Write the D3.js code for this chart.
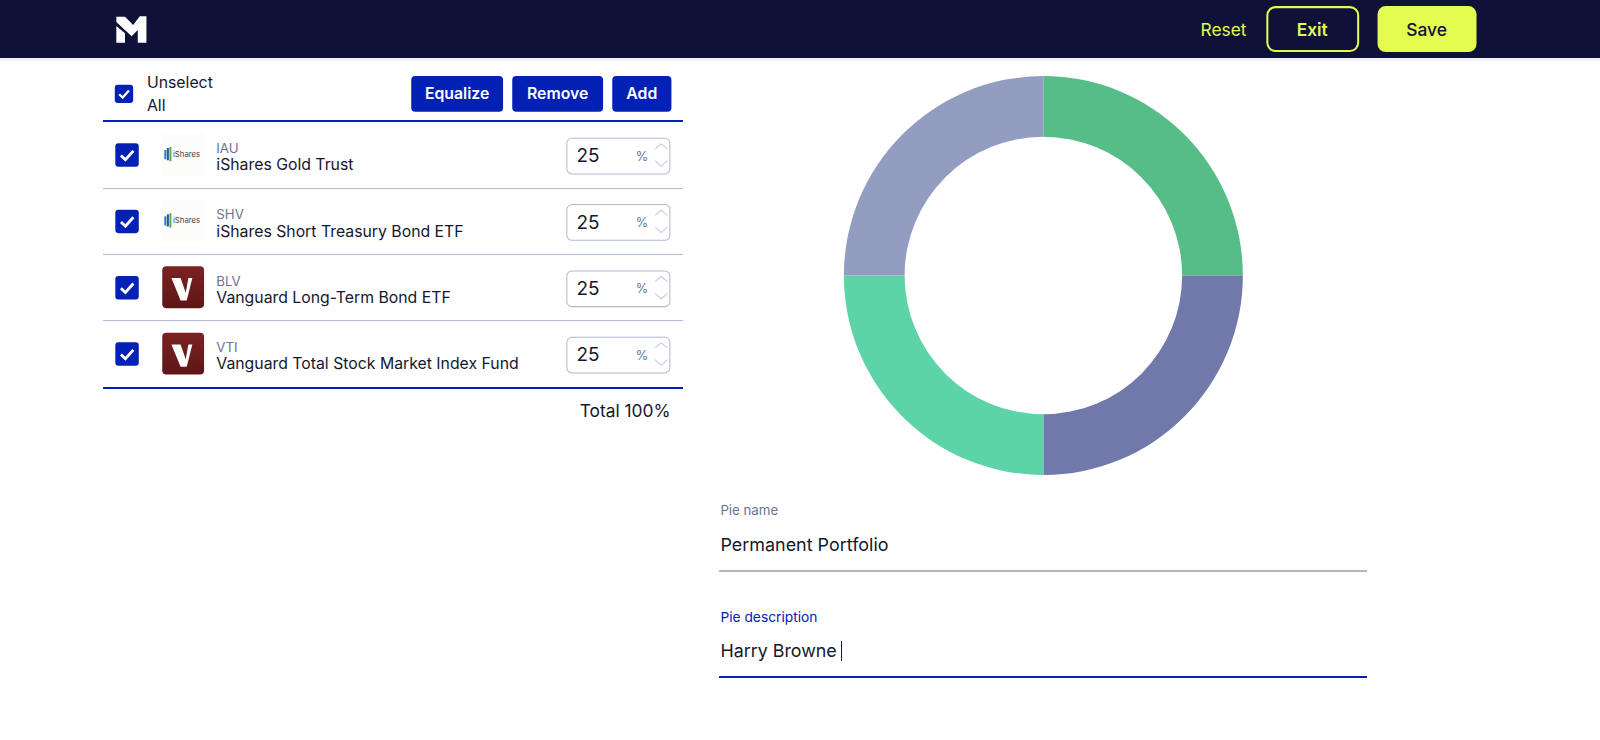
<!DOCTYPE html>
<html><head><meta charset="utf-8">
<script src="https://cdn.jsdelivr.net/npm/d3@7/dist/d3.min.js"></script>
<style>
html,body{margin:0;padding:0;background:#fff;overflow:hidden}
svg{display:block;font-family:Inter,"Noto Sans",sans-serif}
.rule{shape-rendering:crispEdges}
</style></head><body>
<svg id="c" width="1600" height="740" viewBox="0 0 1568 725.2"></svg>
<script>
const tickers=["IAU","SHV","BLV","VTI"];
const names=["iShares Gold Trust","iShares Short Treasury Bond ETF","Vanguard Long-Term Bond ETF","Vanguard Total Stock Market Index Fund"];
const issuers=["iShares","iShares","Vanguard","Vanguard"];
const weights=[25,25,25,25];
const sliceColors=["#57bd88","#7079a9","#5dd3a8","#939dc2"];
const buttons=[["Equalize",403,90],["Remove",502,89],["Add",600,58]];

const navy="#0f1238",lime="#e4fc4f",blue="#0421b5",rule="#b3b9d2",ink="#14172e",grey="#6d7394";
const svg=d3.select("#c");
const T=(g,x,y,s,size,fill,weight,anchor)=>g.append("text").attr("x",x).attr("y",y).text(s)
  .attr("font-size",size).attr("fill",fill).attr("font-weight",weight||400).attr("text-anchor",anchor||"start");
const R=(x,y,w,h,fill)=>svg.append("rect").attr("class","rule").attr("x",x).attr("y",y).attr("width",w).attr("height",h).attr("fill",fill);

const grad=svg.append("defs").append("linearGradient").attr("id","vg").attr("x1",0).attr("y1",0).attr("x2",0).attr("y2",1);
grad.append("stop").attr("offset",0).attr("stop-color","#7a2321");
grad.append("stop").attr("offset",1).attr("stop-color","#5f1517");

R(0,57,1568,3,"#f3f3f5");
R(0,0,1568,57,navy);
svg.append("path").attr("fill","#fff")
  .attr("d","M114 16.5 L122.5 16.5 L130.5 24.5 L137 16 L143.5 16 L143.5 42 L135 42 L135 29.5 L129 35.5 L114 21.5 Z M114 25.5 L122.5 32.5 L122.5 42 L114 42 Z");
T(svg,1199,35,"Reset",17,lime,400,"middle");
svg.append("rect").attr("x",1242).attr("y",7).attr("width",89).attr("height",43).attr("rx",8).attr("fill","none").attr("stroke",lime).attr("stroke-width",2);
T(svg,1286,35,"Exit",17,lime,600,"middle");
svg.append("rect").attr("x",1350).attr("y",6).attr("width",97).attr("height",45).attr("rx",8).attr("fill",lime);
T(svg,1398,35,"Save",17,navy,500,"middle");

function check(x,y,s){
  const g=svg.append("g").attr("transform",`translate(${x},${y})`);
  g.append("rect").attr("width",s).attr("height",s).attr("rx",3).attr("fill",blue);
  g.append("path").attr("d",`M${s*.24} ${s*.52} L${s*.43} ${s*.7} L${s*.77} ${s*.32}`).attr("fill","none").attr("stroke","#fff").attr("stroke-width",s*.12);
}
check(112.5,83,18);
T(svg,144,86,"Unselect",15.5,ink);
T(svg,144,109,"All",15.5,ink);
buttons.forEach(([t,x,w])=>{
  svg.append("rect").attr("x",x).attr("y",74.5).attr("width",w).attr("height",35).attr("rx",4).attr("fill",blue);
  T(svg,x+w/2,97.5,t,15.5,"#fff",600,"middle");
});
R(101,118,568,2,blue);
R(101,379,568,2,blue);

const rowY=d3.scaleLinear().domain([0,3]).range([152,347]);
tickers.forEach((t,i)=>{
  const y=rowY(i);
  if(i<3) R(101,y+32,568,1,rule);
  check(113,y-11.5,23);
  const g=svg.append("g").attr("transform",`translate(159,${y-21})`);
  if(issuers[i]==="iShares"){
    g.append("rect").attr("width",41).attr("height",41).attr("fill","#fcfcfb");
    g.append("rect").attr("x",2).attr("y",16).attr("width",2).attr("height",9).attr("fill","#2f7fc8");
    g.append("rect").attr("x",4.5).attr("y",14).attr("width",2).attr("height",12).attr("fill","#1c5aa8");
    g.append("rect").attr("x",7).attr("y",13).attr("width",2).attr("height",14).attr("fill","#6fa84f");
    T(g,10.5,23,"iShares",7.6,"#444");
  } else {
    g.append("rect").attr("width",41).attr("height",41).attr("rx",4).attr("fill","url(#vg)");
    g.append("path").attr("fill","#fff").attr("d","M9 11.5 L18 11.5 L23 26 L25.6 11.5 L29.5 11.5 L24 33.5 L18 33.5 Z");
  }
  T(svg,212,y-2,t,13,grey);
  T(svg,212,y+15,names[i],15.5,ink);
  svg.append("rect").attr("x",555.5).attr("y",y-16.5).attr("width",101).attr("height",35).attr("rx",5).attr("fill","#fff").attr("stroke",rule);
  T(svg,565,y+7,String(weights[i]),18.5,ink);
  T(svg,623,y+5.5,"%",12.5,grey);
  svg.append("path").attr("fill","none").attr("stroke","#c3c7da").attr("d",`M642 ${y-6} L648 ${y-11} L654 ${y-6} M642 ${y+5.5} L648 ${y+11} L654 ${y+5.5}`);
});
T(svg,657,409,"Total 100%",17,ink,400,"end");

const pie=d3.pie().sort(null)(weights);
const arc=d3.arc().innerRadius(136).outerRadius(195.5);
svg.append("g").attr("transform","translate(1022.5,270)").selectAll("path").data(pie).join("path")
  .attr("d",arc).attr("fill",(d,i)=>sliceColors[i]);

T(svg,706,505,"Pie name",13,grey);
T(svg,706,540,"Permanent Portfolio",17.6,ink);
R(705,559,635,2,"#b3b5c0");
T(svg,706,610,"Pie description",13.5,blue);
T(svg,706,644,"Harry Browne",17.5,ink);
R(824,628,1,20,ink);
R(705,662,635,2,blue);
</script></body></html>
